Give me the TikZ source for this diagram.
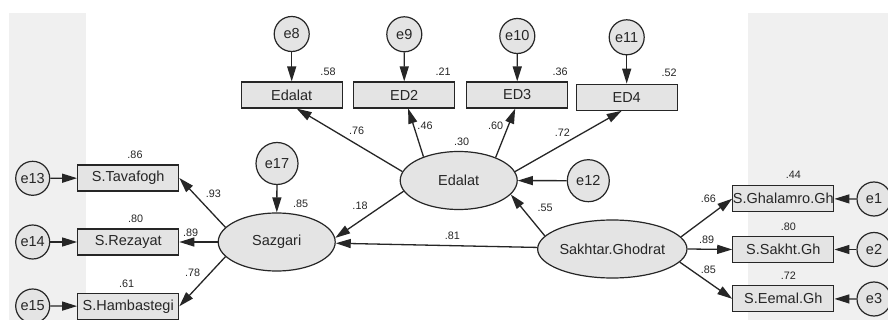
\documentclass[tikz,border=0pt]{standalone}
\usepackage{fontspec}
\setmainfont{Liberation Sans}
\usetikzlibrary{shapes.geometric,arrows.meta}
\definecolor{panel}{HTML}{F0F0F0}
\definecolor{nodefill}{HTML}{E4E4E4}
\definecolor{ink}{HTML}{262626}
\begin{document}
\begin{tikzpicture}[x=1pt,y=-1pt,
  nfont/.style={font=\fontsize{14.5}{16}\selectfont},
  obs/.style={draw=ink, fill=nodefill, line width=1.2pt, minimum width=101pt, minimum height=26pt, inner sep=0pt, nfont, text=ink},
  lat/.style={ellipse, draw=ink, fill=nodefill, line width=1.2pt, minimum width=117pt, minimum height=58pt, inner sep=0pt, nfont, text=ink},
  err/.style={circle, draw=ink, fill=nodefill, line width=1.2pt, minimum size=35pt, inner sep=0pt, nfont, text=ink},
  errb/.style={err, minimum size=42pt},
  errs/.style={err, minimum size=34pt},
  link/.style={draw=ink, line width=1.3pt, -{Triangle[length=15pt,width=9pt]}},
  lbl/.style={font=\fontsize{10.8}{12}\selectfont, text=ink, inner sep=0pt}
]
\useasboundingbox (0,0) rectangle (888,320);
\fill[white] (0,0) rectangle (888,320);
% background panels
\fill[panel] (9,13) rectangle (86,320);
\fill[panel] (748,13) rectangle (888,320);

% observed variables (top)
\node[obs] (b1) at (291.7,95) {Edalat};
\node[obs] (b2) at (404.2,95) {ED2};
\node[obs] (b3) at (517.2,95) {ED3};
\node[obs] (b4) at (626.7,97.2) {ED4};
% error terms (top)
\node[err] (e8) at (291.7,34) {e8};
\node[err] (e9) at (404.3,34.3) {e9};
\node[err] (e10) at (517.3,36) {e10};
\node[err] (e11) at (626.7,37.3) {e11};

% latent variables
\node[lat] (ed) at (458.7,180.5) {Edalat};
\node[lat] (saz) at (276.7,242) {Sazgari};
\node[lat] (sak) at (612.3,249) {Sakhtar.Ghodrat};
\node[errb] (e12) at (588.3,180.7) {e12};
\node[errb] (e17) at (277,163.5) {e17};

% left observed
\node[obs] (tav) at (128.2,178) {S.Tavafogh};
\node[obs] (rez) at (128.2,242) {S.Rezayat};
\node[obs] (ham) at (128.2,306.3) {S.Hambastegi};
\node[errs] (e13) at (32.7,178.3) {e13};
\node[errs] (e14) at (32.7,242) {e14};
\node[errs] (e15) at (32.7,306) {e15};

% right observed
\node[obs] (gha) at (783.3,198.7) {S.Ghalamro.Gh};
\node[obs] (sakh) at (783.3,249.5) {S.Sakht.Gh};
\node[obs] (eem) at (783.3,298.8) {S.Eemal.Gh};
\node[errs] (e1) at (874,199) {e1};
\node[errs] (e2) at (874,249.5) {e2};
\node[errs] (e3) at (874,299) {e3};

% connectors
\draw[link] (e8) -- (b1);
\draw[link] (e9) -- (b2);
\draw[link] (e10) -- (b3);
\draw[link] (e11) -- (b4);
\draw[link] (ed.171) -- ([xshift=5pt]b1.south);
\draw[link] (ed.146) -- ([xshift=4pt]b2.south);
\draw[link] (ed.32) -- ([xshift=-2pt]b3.south);
\draw[link] (ed.9) -- ([xshift=-5pt]b4.south);
\draw[link] (e12) -- (ed);
\draw[link] (sak.169) -- (ed.-15);
\draw[link] (sak) -- (saz);
\draw[link] (ed.191) -- (saz.4);
\draw[link] (e17) -- (saz);
\draw[link] (saz.164) -- (tav.east);
\draw[link] (saz.west) -- (rez.east);
\draw[link] (saz.196) -- (ham.east);
\draw[link] (e13) -- (tav);
\draw[link] (e14) -- (rez);
\draw[link] (e15) -- (ham);
\draw[link] (sak.10) -- (gha.west);
\draw[link] (sak.east) -- (sakh.west);
\draw[link] (sak.-11) -- (eem.west);
\draw[link] (e1) -- (gha);
\draw[link] (e2) -- (sakh);
\draw[link] (e3) -- (eem);

% coefficient labels
\node[lbl] (l58) at (328,72) {.58};
\node[lbl] (l21) at (443,72) {.21};
\node[lbl] (l36) at (560,72) {.36};
\node[lbl] (l52) at (669,73) {.52};
\node[lbl] (l76) at (356.7,131) {.76};
\node[lbl] (l46) at (425,126) {.46};
\node[lbl] (l60) at (495.7,126) {.60};
\node[lbl] (l72) at (562.3,132.3) {.72};
\node[lbl] (l30) at (461.7,141.7) {.30};
\node[lbl] (l18) at (360,206) {.18};
\node[lbl] (l85s) at (300.7,204) {.85};
\node[lbl] (l55) at (545,208.3) {.55};
\node[lbl] (l81) at (452.3,236) {.81};
\node[lbl] (l86) at (135,155) {.86};
\node[lbl] (l80l) at (135.7,219) {.80};
\node[lbl] (l61) at (126.7,283.3) {.61};
\node[lbl] (l93) at (213.3,194) {.93};
\node[lbl] (l89l) at (190.7,232.7) {.89};
\node[lbl] (l78) at (192.7,272.7) {.78};
\node[lbl] (l44) at (793.3,175) {.44};
\node[lbl] (l80r) at (788.3,226.7) {.80};
\node[lbl] (l72r) at (788.3,276) {.72};
\node[lbl] (l66) at (708.3,199) {.66};
\node[lbl] (l89r) at (706.7,240) {.89};
\node[lbl] (l85r) at (708.3,269.3) {.85};
\end{tikzpicture}
\end{document}
